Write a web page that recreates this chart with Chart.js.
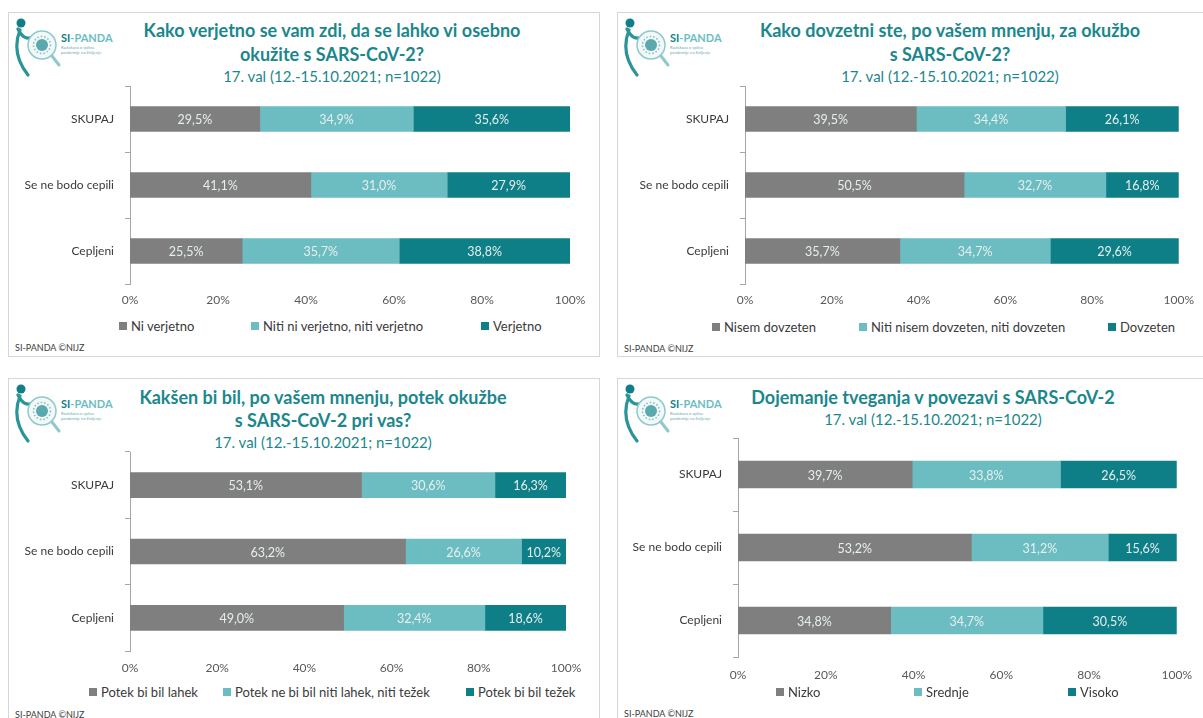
<!DOCTYPE html>
<html lang="sl">
<head>
<meta charset="UTF-8">
<title>SI-PANDA – dojemanje tveganja, 17. val</title>
<script src="https://cdn.jsdelivr.net/npm/chart.js"></script>
<style>
  body { margin: 0; width: 1203px; height: 718px; background: #fff; position: relative; overflow: hidden;
         font-family: Lato, 'Open Sans', sans-serif; }
  .panel { position: absolute; border: 1px solid #d6d6d6; box-sizing: border-box; background: #fff; }
  .title, .sub { position: absolute; color: #1b878c; white-space: nowrap; transform: translate(-50%, -50%); }
  .title { font-weight: 700; font-size: 18px; }
  .sub { font-size: 15px; }
  canvas { position: absolute; }
  .legend-item { position: absolute; font-size: 13px; color: #3a3a3a; white-space: nowrap;
                 transform: translateY(-50%); display: flex; align-items: center; }
  .legend-item i { display: inline-block; width: 8px; height: 8px; margin-right: 4px; }
  .footer { position: absolute; font-size: 9px; color: #404040; transform: translateY(-50%); }
  .logo { position: absolute; }
</style>
</head>
<body>
<script>
  // categories (rows of every chart)
  const categories = ['SKUPAJ', 'Se ne bodo cepili', 'Cepljeni'];
  const subtitle = '17. val (12.-15.10.2021; n=1022)';
  const tickStep = 20;

  // Kako verjetno se vam zdi ...
  const verjetnoSeries = ['Ni verjetno', 'Niti ni verjetno, niti verjetno', 'Verjetno'];
  const verjetnoNi = [29.5, 41.1, 25.5];
  const verjetnoNiti = [34.9, 31.0, 35.7];
  const verjetnoDa = [35.6, 27.9, 38.8];

  // Kako dovzetni ste ...
  const dovzetnostSeries = ['Nisem dovzeten', 'Niti nisem dovzeten, niti dovzeten', 'Dovzeten'];
  const dovzetnostNe = [39.5, 50.5, 35.7];
  const dovzetnostNiti = [34.4, 32.7, 34.7];
  const dovzetnostDa = [26.1, 16.8, 29.6];

  // Kakšen bi bil potek okužbe ...
  const potekSeries = ['Potek bi bil lahek', 'Potek ne bi bil niti lahek, niti težek', 'Potek bi bil težek'];
  const potekLahek = [53.1, 63.2, 49.0];
  const potekNiti = [30.6, 26.6, 32.4];
  const potekTezek = [16.3, 10.2, 18.6];

  // Dojemanje tveganja
  const tveganjeSeries = ['Nizko', 'Srednje', 'Visoko'];
  const tveganjeNizko = [39.7, 53.2, 34.8];
  const tveganjeSrednje = [33.8, 31.2, 34.7];
  const tveganjeVisoko = [26.5, 15.6, 30.5];

  const colors = ['#7f7f80', '#6cbdc1', '#0f7f87'];

  // layout of the four boxes (page pixels)
  const panels = [
    { box: [8, 12, 592, 345], title: ['Kako verjetno se vam zdi, da se lahko vi osebno', 'okužite s SARS-CoV-2?'],
      cx: 332, titleY: [30, 54], subY: 76, area: { left: 130, right: 570, top: 86, bottom: 284 },
      tickY: 300, legendY: 326, legendX: [119, 251, 481], bar: 25, footerY: 347,
      series: verjetnoSeries, values: [verjetnoNi, verjetnoNiti, verjetnoDa] },
    { box: [617, 12, 600, 345], title: ['Kako dovzetni ste, po vašem mnenju, za okužbo', 's SARS-CoV-2?'],
      cx: 950, titleY: [30, 54], subY: 76, area: { left: 745, right: 1185, top: 86, bottom: 284 },
      tickY: 300, legendY: 327, legendX: [712, 859, 1108], bar: 25, footerY: 348,
      series: dovzetnostSeries, values: [dovzetnostNe, dovzetnostNiti, dovzetnostDa] },
    { box: [8, 378, 592, 360], title: ['Kakšen bi bil, po vašem mnenju, potek okužbe', 's SARS-CoV-2 pri vas?'],
      cx: 323, titleY: [397, 420], subY: 442, area: { left: 130, right: 566, top: 452, bottom: 651 },
      tickY: 668, legendY: 692, legendX: [89, 223, 466], bar: 25, footerY: 714,
      series: potekSeries, values: [potekLahek, potekNiti, potekTezek] },
    { box: [617, 378, 600, 360], title: ['Dojemanje tveganja v povezavi s SARS-CoV-2'],
      cx: 933, titleY: [397], subY: 419, area: { left: 738, right: 1187, top: 438, bottom: 657 },
      tickY: 675, legendY: 692, legendX: [776, 914, 1068], bar: 27, footerY: 713,
      series: tveganjeSeries, values: [tveganjeNizko, tveganjeSrednje, tveganjeVisoko] }
  ];

  const fmt = v => v.toFixed(1).replace('.', ',') + '%';

  // percentage text inside each bar segment
  const valueLabels = {
    id: 'valueLabels',
    afterDatasetsDraw(chart) {
      const ctx = chart.ctx;
      ctx.save();
      ctx.font = '12.5px Lato';
      ctx.fillStyle = '#e6efef';
      ctx.textAlign = 'center';
      ctx.textBaseline = 'middle';
      chart.data.datasets.forEach((ds, i) => {
        chart.getDatasetMeta(i).data.forEach((bar, j) => {
          const p = bar.getCenterPoint();
          ctx.fillText(fmt(ds.data[j]), p.x, p.y + 1);
        });
      });
      ctx.restore();
    }
  };

  function logoSvg() {
    return `<svg width="112" height="64" viewBox="0 0 112 64">
      <circle cx="10" cy="8" r="4.5" fill="#0f7f87"/>
      <path d="M7 14 C11 22 15 25 23 22 M9 15 C3 30 6 46 17 60" stroke="#2b9499" stroke-width="3.2" fill="none" stroke-linecap="round"/>
      <circle cx="31" cy="30" r="14" fill="#f2f8f8" stroke="#8fc9cc" stroke-width="1.5"/>
      <circle cx="31" cy="30" r="6" fill="#5aa9ae"/>
      <circle cx="31" cy="30" r="8.5" fill="none" stroke="#7fbfc2" stroke-width="1.5" stroke-dasharray="1.5 2"/>
      <line x1="41" y1="41" x2="48" y2="50" stroke="#8fc9cc" stroke-width="3" stroke-linecap="round"/>
      <text x="50" y="27" font-family="Lato" font-weight="700" font-size="11" fill="#0f7f87">SI<tspan fill="#6cbdc1">-PANDA</tspan></text>
      <text x="50" y="34" font-family="Lato" font-size="4.2" fill="#6aa9ad">Raziskava o vplivu</text>
      <text x="50" y="39" font-family="Lato" font-size="4.2" fill="#6aa9ad">pandemije na življenje</text>
    </svg>`;
  }

  function add(tag, cls, style, html) {
    const el = document.createElement(tag);
    if (cls) el.className = cls;
    Object.assign(el.style, style);
    if (html !== undefined) el.innerHTML = html;
    document.body.appendChild(el);
    return el;
  }

  panels.forEach(p => {
    const [bx, by, bw, bh] = p.box;
    add('div', 'panel', { left: bx + 'px', top: by + 'px', width: bw + 'px', height: bh + 'px' });
    add('div', 'logo', { left: (bx + 3) + 'px', top: (by + 3) + 'px' }, logoSvg());

    p.title.forEach((line, i) => {
      add('div', 'title', { left: p.cx + 'px', top: p.titleY[i] + 'px' }).textContent = line;
    });
    add('div', 'sub', { left: p.cx + 'px', top: p.subY + 'px' }).textContent = subtitle;

    // canvas covers category labels, plot and x tick labels
    const cLeft = bx, cTop = p.area.top - 6;
    const cRight = Math.min(bx + bw, 1203), cBottom = p.tickY + 12;
    const canvas = add('canvas', '', {
      left: cLeft + 'px', top: cTop + 'px', width: (cRight - cLeft) + 'px', height: (cBottom - cTop) + 'px'
    });
    canvas.width = cRight - cLeft;
    canvas.height = cBottom - cTop;

    new Chart(canvas.getContext('2d'), {
      type: 'bar',
      data: {
        labels: categories,
        datasets: p.series.map((name, i) => ({
          label: name,
          data: p.values[i],
          backgroundColor: colors[i],
          borderWidth: 0,
          barThickness: p.bar
        }))
      },
      options: {
        indexAxis: 'y',
        responsive: false,
        animation: false,
        layout: { padding: { top: p.area.top - cTop, right: cRight - p.area.right, left: 0, bottom: 0 } },
        plugins: { legend: { display: false }, tooltip: { enabled: false } },
        scales: {
          x: {
            stacked: true, min: 0, max: 100,
            grid: { display: false, drawTicks: false }, border: { display: false },
            ticks: { stepSize: tickStep, padding: p.tickY - p.area.bottom - 7, color: '#595959',
                     font: { family: 'Lato', size: 12 }, callback: v => v + '%' },
            afterFit: s => { s.height = cBottom - p.area.bottom; }
          },
          y: {
            stacked: true,
            grid: { offset: true, drawOnChartArea: false, drawTicks: true, tickLength: 5, color: '#a6a6a6' },
            border: { display: true, color: '#a6a6a6' },
            ticks: { padding: 11, color: '#3a3a3a', font: { family: 'Lato', size: 12 } },
            afterFit: s => {
              s.width = p.area.left - cLeft;
              // let layout.padding alone decide where the plot starts
              s.paddingTop = 0;
              s.paddingBottom = 0;
            }
          }
        }
      },
      plugins: [valueLabels]
    });

    // legend row under the axis
    p.series.forEach((name, i) => {
      add('div', 'legend-item', { left: p.legendX[i] + 'px', top: p.legendY + 'px' },
          `<i style="background:${colors[i]}"></i>${name}`);
    });
    add('div', 'footer', { left: (bx + 7) + 'px', top: p.footerY + 'px' }).textContent = 'SI-PANDA ©NIJZ';
  });
</script>
</body>
</html>
